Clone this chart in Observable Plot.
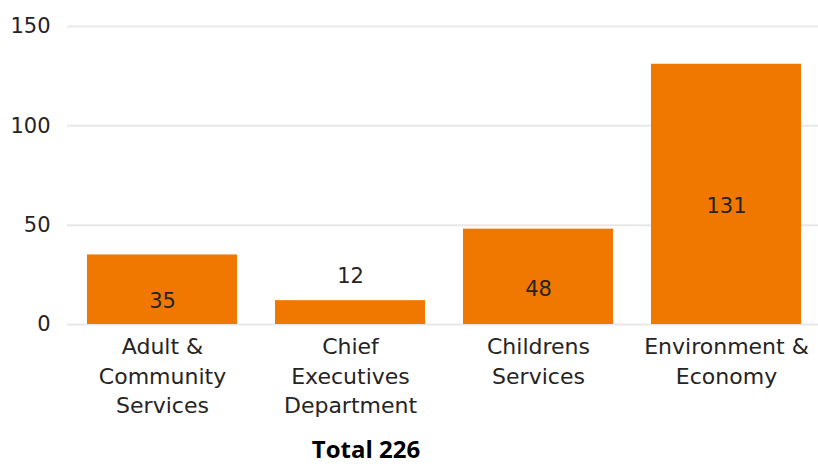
<!DOCTYPE html>
<html><head><meta charset="utf-8">
<script src="https://cdn.jsdelivr.net/npm/d3@7"></script>
<script src="https://cdn.jsdelivr.net/npm/@observablehq/plot@0.6"></script>
<style>
body{margin:0;background:#fff;font-family:"DejaVu Sans",sans-serif;}
#wrap{position:relative;width:818px;height:464px;}
#total{position:absolute;left:0;width:732px;top:437px;text-align:center;font-family:"Open Sans",sans-serif;font-weight:bold;font-size:24px;line-height:24px;color:#000;}
</style></head>
<body><div id="wrap"><div id="chart"></div><div id="total"></div></div>
<script>
const categories = ["Adult & Community Services", "Chief Executives Department", "Childrens Services", "Environment & Economy"];
const tickLabels = ["Adult &\nCommunity\nServices", "Chief\nExecutives\nDepartment", "Childrens\nServices", "Environment &\nEconomy"];
const values = [35, 12, 48, 131];
const yTicks = [0, 50, 100, 150];
const totalLabel = "Total 226";

const data = categories.map((c, i) => ({category: c, value: values[i]}));
const labelMap = new Map(categories.map((c, i) => [c, tickLabels[i]]));
const inside = data.filter(d => d.value >= 20);
const outside = data.filter(d => d.value < 20);

const chart = Plot.plot({
  width: 818,
  height: 430,
  marginLeft: 67,
  marginRight: -3,
  marginTop: 26,
  marginBottom: 106,
  style: {fontFamily: "'DejaVu Sans', sans-serif", fontSize: "21px", color: "#252423", overflow: "visible"},
  x: {domain: categories, paddingInner: 0.2, paddingOuter: 0.1, label: null},
  y: {domain: [0, 150], label: null},
  marks: [
    Plot.gridY(yTicks, {stroke: "#e8e8e8", strokeOpacity: 1, strokeWidth: 2}),
    Plot.barY(data, {x: "category", y: "value", fill: "#F07800"}),
    Plot.axisY(yTicks, {tickSize: 0, tickPadding: 17, fontSize: 21, fill: "#252423", label: null}),
    Plot.axisX({tickSize: 0, tickPadding: 9, fontSize: 22, fill: "#252423", lineHeight: 1.34, tickFormat: d => labelMap.get(d), label: null}),
    Plot.text(inside, {x: "category", y: d => d.value / 2, text: d => String(d.value), dy: 12, fontSize: 21, fill: "#252423"}),
    Plot.text(outside, {x: "category", y: "value", text: d => String(d.value), dy: -24, fontSize: 21, fill: "#252423"})
  ]
});
document.getElementById("chart").appendChild(chart);
document.getElementById("total").textContent = totalLabel;
</script>
</body></html>
